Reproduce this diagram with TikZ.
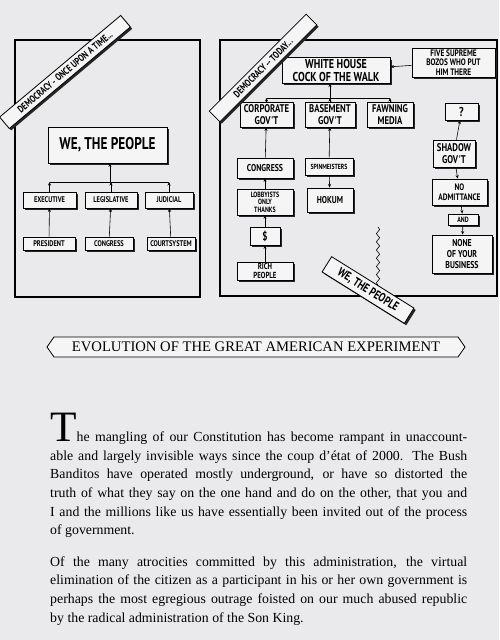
\documentclass[tikz,border=0pt]{standalone}
\usepackage{fontspec}
\setmainfont{Liberation Serif}
\newfontfamily\handfont[FakeStretch=0.78, UprightFont=*-Bold]{PT Sans}
\usetikzlibrary{arrows.meta, shapes.symbols, shadows, decorations.pathmorphing}
\definecolor{paper}{RGB}{234,234,236}
\definecolor{boxfill}{RGB}{245,245,245}

\begin{document}
\begin{tikzpicture}[x=0.03cm, y=-0.03cm,
  box/.style={draw, line width=0.7pt, fill=boxfill, align=center,
              inner sep=1pt, font=\handfont\fontsize{7}{7.5}\selectfont,
              drop shadow={shadow xshift=1.6pt, shadow yshift=-1.6pt,
                           fill=black!85, opacity=1}},
  midbox/.style={box, font=\handfont\fontsize{9.5}{10}\selectfont},
  banner/.style={box, minimum height=0.45cm,
                 font=\handfont\fontsize{8.5}{9}\selectfont},
  frame/.style={draw, line width=1.2pt},
  up/.style={-{Stealth[length=3pt, width=2.6pt]}, line width=0.5pt}
]
  \useasboundingbox (0,0) rectangle (499,640);
  \fill[paper] (0,0) rectangle (499,640);

  % then
  \draw[frame] (15,40) rectangle (200,297);
  \node[box, font=\handfont\fontsize{14.5}{15}\selectfont,
        minimum width=3.57cm, minimum height=1.08cm]   (wtp)   at (107.5,145) {WE, THE PEOPLE};
  \node[box, minimum width=1.59cm, minimum height=0.48cm] (exec)  at (49.5,200) {EXECUTIVE};
  \node[box, minimum width=1.56cm, minimum height=0.48cm] (legis) at (111,200)  {LEGISLATIVE};
  \node[box, minimum width=1.44cm, minimum height=0.48cm] (judic) at (169,200)  {JUDICIAL};
  \node[box, minimum width=1.56cm, minimum height=0.39cm] (pres)  at (49,243.5) {PRESIDENT};
  \node[box, minimum width=1.44cm, minimum height=0.39cm] (congr) at (109,243.5) {CONGRESS};
  \node[box, minimum width=1.44cm, minimum height=0.39cm] (court) at (171,243.5) {COURTSYSTEM};

  \coordinate (join1) at (110,182);
  \draw[line width=0.5pt] (exec.north |- join1) -- (judic.north |- join1);
  \draw[up] (join1) -- (wtp.south -| join1);
  \draw[up] (exec)  -- (exec.north |- join1);
  \draw[up] (legis) -- (legis.north |- join1);
  \draw[up] (judic) -- (judic.north |- join1);
  \draw[up] (pres)  -- (exec);
  \draw[up] (congr) -- (legis);
  \draw[up] (court) -- (judic);

  \node[banner, rotate=40, minimum width=4.74cm] (once) at (65,72) {DEMOCRACY - ONCE UPON A TIME...};

  % now
  \draw[frame] (220,40) rectangle (497,296);
  \coordinate (squigtop) at (378,227);
  \coordinate (squigbot) at (378,287);
  \draw[line width=0.5pt, decorate,
        decoration={snake, amplitude=1.4pt, segment length=7pt}] (squigtop) -- (squigbot);

  \node[midbox, font=\handfont\fontsize{11}{11.5}\selectfont,
        minimum width=3.24cm, minimum height=0.75cm] (white) at (336,70.5) {WHITE HOUSE\\COCK OF THE WALK};
  \node[box, font=\handfont\fontsize{8}{7.9}\selectfont,
        minimum width=2.49cm, minimum height=0.87cm] (bozos) at (453.5,62.5) {FIVE SUPREME\\BOZOS WHO PUT\\HIM THERE};
  \node[midbox, minimum width=1.59cm, minimum height=0.75cm] (corp)  at (266.5,114.5) {CORPORATE\\GOV'T};
  \node[midbox, minimum width=1.50cm, minimum height=0.75cm] (base)  at (330,114.5)   {BASEMENT\\GOV'T};
  \node[midbox, minimum width=1.38cm, minimum height=0.75cm] (fawn)  at (390,114.5)   {FAWNING\\MEDIA};
  \node[midbox, font=\handfont\fontsize{11}{11}\selectfont,
        minimum width=0.99cm, minimum height=0.51cm] (query) at (461.5,111.5) {?};
  \node[midbox, minimum width=1.26cm, minimum height=0.81cm] (shadow) at (454,153.5) {SHADOW\\GOV'T};
  \node[box, font=\handfont\fontsize{8.5}{9}\selectfont,
        minimum width=1.68cm, minimum height=0.60cm] (congress) at (265,168) {CONGRESS};
  \node[box, font=\handfont\fontsize{6.3}{6.5}\selectfont,
        minimum width=1.44cm, minimum height=0.51cm] (spin)  at (329,166.5) {SPINMEISTERS};
  \node[box, font=\handfont\fontsize{8.5}{9}\selectfont,
        minimum width=1.38cm, minimum height=0.72cm] (hokum) at (330,200) {HOKUM};
  \node[box, font=\handfont\fontsize{6.5}{6.3}\selectfont,
        minimum width=1.68cm, minimum height=0.78cm] (lobby) at (265,202) {LOBBYISTS\\ONLY\\THANKS};
  \node[midbox, font=\handfont\fontsize{10}{10}\selectfont,
        minimum width=0.90cm, minimum height=0.54cm] (cash)  at (265,236) {\$};
  \node[box, font=\handfont\fontsize{7.5}{7.5}\selectfont,
        minimum width=1.68cm, minimum height=0.54cm] (rich)  at (265,271) {RICH\\PEOPLE};
  \node[box, font=\handfont\fontsize{8}{8.5}\selectfont,
        minimum width=1.65cm, minimum height=0.78cm] (noadm) at (459.5,192) {NO\\ADMITTANCE};
  \node[box, font=\handfont\fontsize{6.5}{6.5}\selectfont,
        minimum width=0.90cm, minimum height=0.33cm] (and)   at (463,219.5) {AND};
  \node[box, font=\handfont\fontsize{8.5}{9}\selectfont,
        minimum width=1.80cm, minimum height=1.14cm] (none)  at (462,254) {NONE\\OF YOUR\\BUSINESS};

  \coordinate (join2) at (330,98);
  \draw[line width=0.5pt] (corp.north |- join2) -- (fawn.north |- join2);
  \draw[up] (join2) -- (white.south -| join2);
  \draw[up] (corp) -- (corp.north |- join2);
  \draw[up] (base) -- (base.north |- join2);
  \draw[up] (fawn) -- (fawn.north |- join2);
  \draw[up] (bozos) -- (white);
  \draw[up] (shadow) -- (query);
  \draw[up] (congress) -- (corp);
  \draw[up] (spin) -- (base);
  \draw[up] (spin) -- (hokum);
  \draw[up] (lobby) -- (congress);
  \draw[up] (cash) -- (lobby);
  \draw[up] (rich) -- (cash);
  \draw[up] (shadow) -- (noadm);
  \draw[up] (noadm) -- (and);
  \draw[up] (and) -- (none);

  \node[banner, rotate=45, minimum width=4.11cm] (today) at (263,68) {DEMOCRACY -- TODAY...};
  \node[banner, rotate=-32, minimum width=2.91cm, minimum height=0.54cm,
        font=\handfont\fontsize{10.5}{10.5}\selectfont] (people) at (368,290) {WE, THE PEOPLE};

  % title
  \node[draw, line width=0.7pt, fill=boxfill, shape=signal, signal to=west and east,
        signal pointer angle=110, minimum width=12.54cm, minimum height=0.6cm, inner sep=1pt,
        font=\fontsize{12.5}{13}\selectfont] (evo) at (256,347) {EVOLUTION OF THE GREAT AMERICAN EXPERIMENT};

  % text
  \node[anchor=north west, text width=12.51cm, align=justify, inner sep=0pt,
        font=\fontsize{11.8}{15.9}\selectfont] (body) at (50,413) {\parindent=0pt
    {\fontsize{37}{37}\selectfont T}he mangling of our Constitution has become rampant in unaccount-\linebreak
    able and largely invisible ways since the coup d'état of 2000. The Bush\linebreak
    Banditos have operated mostly underground, or have so distorted the\linebreak
    truth of what they say on the one hand and do on the other, that you and\linebreak
    I and the millions like us have essentially been invited out of the process\linebreak
    of government.\par\vspace{11pt}
    Of the many atrocities committed by this administration, the virtual\linebreak
    elimination of the citizen as a participant in his or her own government is\linebreak
    perhaps the most egregious outrage foisted on our much abused republic\linebreak
    by the radical administration of the Son King.\par};
\end{tikzpicture}
\end{document}
